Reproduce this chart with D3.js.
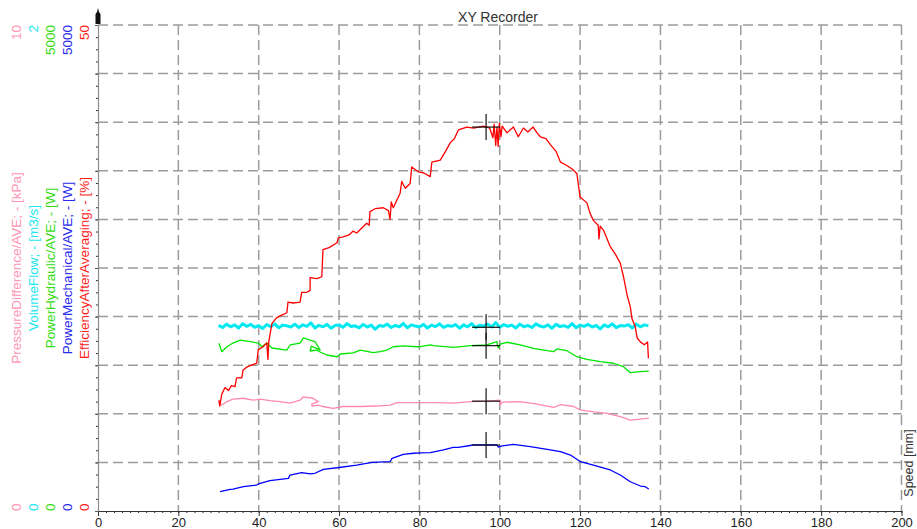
<!DOCTYPE html>
<html>
<head>
<meta charset="utf-8">
<script src="https://cdn.jsdelivr.net/npm/d3@7"></script>
<style>
  body { margin: 0; background: #fff; }
  svg { display: block; font-family: "Liberation Sans", Arial, sans-serif; }
</style>
</head>
<body>
<div id="wrapper"></div>
<script>
// values: [speed mm, value]
var efficiency = [[30.1,11.4],[30.3,10.8],[30.8,12.0],[31.6,12.7],[32.5,12.4],[33.2,12.9],[34.1,12.8],[34.5,13.7],[35.8,13.7],[36.1,14.5],[37.0,14.8],[38.2,15.0],[39.5,15.2],[39.9,16.6],[41.1,16.9],[42.0,17.3],[42.3,15.6],[42.5,17.4],[43.3,19.3],[44.5,19.9],[45.5,20.1],[47.0,20.4],[47.3,21.5],[48.5,21.4],[50.3,21.5],[50.7,22.5],[52.0,22.5],[52.8,22.7],[52.8,24.0],[54.5,23.9],[55.7,24.1],[56.0,26.9],[57.5,27.1],[59.5,27.6],[59.8,28.1],[61.0,28.2],[62.5,28.4],[63.5,28.8],[64.4,28.6],[66.9,29.6],[67.5,29.4],[67.7,30.8],[69.0,31.1],[71.0,31.2],[72.3,30.9],[72.7,30.0],[73.0,31.8],[73.5,31.2],[75.2,32.7],[75.6,33.9],[76.5,33.2],[77.7,33.7],[78.1,35.4],[79.7,34.9],[81.0,34.8],[82.7,34.4],[83.1,35.9],[85.2,36.1],[86.5,37.0],[87.7,37.9],[88.7,38.3],[89.7,39.2],[91.8,39.5],[93.5,39.4],[95.9,39.6],[97.5,39.4],[98.3,38.4],[98.6,39.8],[99.0,37.6],[99.3,39.5],[99.6,37.5],[99.9,39.9],[100.3,38.5],[100.6,39.6],[101.8,38.9],[103.4,39.5],[104.6,38.5],[105.9,39.4],[107.0,39.0],[108.3,39.5],[109.3,38.9],[110.1,38.5],[111.5,38.3],[112.6,37.7],[114.0,37.0],[115.1,35.9],[116.5,35.6],[118.3,35.1],[119.2,34.7],[120.0,32.3],[121.7,31.7],[122.5,30.6],[123.3,29.9],[124.5,29.4],[124.7,28.0],[125.0,29.3],[125.8,28.9],[127.5,27.2],[128.8,26.4],[130.0,25.5],[130.8,24.1],[131.7,22.2],[132.5,21.0],[132.9,19.8],[133.7,19.0],[134.2,17.8],[135.0,17.4],[136.0,17.1],[136.8,17.4],[137.0,15.7]]

var volumeFlow = [[30,.764],[31,.755],[32,.769],[33,.758],[34,.766],[35,.753],[36,.771],[37,.760],[38,.768],[39,.756],[40,.763],[41,.751],[42,.767],[43,.759],[44,.770],[45,.754],[46,.765],[47,.762],[48,.757],[49,.769],[50,.755],[51,.766],[52,.760],[53,.774],[54,.753],[55,.764],[56,.758],[57,.768],[58,.752],[59,.763],[60,.766],[61,.756],[62,.771],[63,.759],[64,.762],[65,.754],[66,.768],[67,.757],[68,.765],[69,.748],[70,.763],[71,.760],[72,.769],[73,.755],[74,.764],[75,.758],[76,.772],[77,.754],[78,.766],[79,.761],[80,.757],[81,.768],[82,.753],[83,.765],[84,.759],[85,.770],[86,.756],[87,.763],[88,.760],[89,.767],[90,.752],[91,.766],[92,.758],[93,.771],[94,.755],[95,.764],[96,.761],[97,.769],[98,.757],[99,.775],[100,.756],[101,.767],[102,.760],[103,.765],[104,.753],[105,.769],[106,.758],[107,.764],[108,.755],[109,.770],[110,.761],[111,.757],[112,.766],[113,.752],[114,.768],[115,.759],[116,.763],[117,.756],[118,.771],[119,.754],[120,.765],[121,.760],[122,.768],[123,.757],[124,.764],[125,.749],[126,.766],[127,.758],[128,.770],[129,.755],[130,.763],[131,.761],[132,.767],[133,.753],[134,.769],[135,.758],[136,.766],[137,.762]]

var powerHydraulic = [[30.1,1725],[30.8,1639],[32.1,1690],[33.6,1728],[35.4,1759],[37.9,1742],[39.9,1728],[40.8,1690],[42.0,1728],[43.3,1677],[47.0,1656],[47.8,1708],[50.3,1728],[51.1,1780],[52.8,1759],[54.0,1742],[54.8,1690],[55.3,1656],[53.1,1697],[52.8,1646],[54.3,1656],[55.3,1636],[57.0,1605],[59.5,1587],[60.3,1615],[63.5,1626],[65.3,1656],[68.5,1629],[70.2,1639],[71.9,1656],[73.5,1690],[76.0,1698],[79.4,1690],[80.2,1690],[82.7,1708],[83.5,1701],[88.5,1684],[92.7,1701],[96.8,1708],[99.3,1742],[99.6,1677],[100.1,1718],[101.8,1736],[105.1,1708],[108.4,1674],[111.8,1649],[113.4,1639],[114.2,1667],[116.7,1649],[119.2,1587],[121.7,1561],[125.0,1536],[128.3,1520],[130.8,1485],[132.5,1423],[135.0,1433],[137.1,1440]]

var pressureDiff = [[30.1,2.25],[30.8,2.18],[32.1,2.25],[33.6,2.30],[36.1,2.32],[38.6,2.28],[40.3,2.30],[42.8,2.27],[45.3,2.25],[47.8,2.22],[50.3,2.28],[51.1,2.35],[53.5,2.32],[54.8,2.25],[53.2,2.20],[53.3,2.16],[54.8,2.18],[56.0,2.15],[58.5,2.11],[61.0,2.15],[65.3,2.15],[69.4,2.16],[72.7,2.18],[74.4,2.23],[79.4,2.23],[84.4,2.23],[88.5,2.22],[92.7,2.25],[96.8,2.26],[100.1,2.28],[100.1,2.18],[100.6,2.24],[105.1,2.25],[109.3,2.20],[111.8,2.16],[113.4,2.13],[115.1,2.19],[118.4,2.15],[120.0,2.08],[123.4,2.04],[126.7,2.01],[130.0,1.94],[132.5,1.87],[135.0,1.89],[137.1,1.91]]

var powerMechanical = [[30.4,199],[32.9,223],[33.6,226],[36.2,250],[39.5,267],[39.9,278],[42.8,312],[47.4,336],[47.8,370],[50.7,394],[52.8,381],[54.0,388],[56.1,429],[59.5,445],[64.4,473],[68.2,501],[72.7,507],[73.2,542],[76.0,583],[78.5,594],[80.2,599],[82.7,600],[86.0,628],[88.4,655],[89.7,655],[93.4,679],[96.8,679],[99.3,679],[99.6,658],[100.6,669],[103.4,686],[107.6,662],[111.8,635],[115.1,610],[117.6,576],[120.1,507],[123.3,473],[127.5,422],[130.0,370],[132.5,301],[135.0,257],[136.2,250],[137.1,226]]

// series order: pressure, flow, hydraulic, mechanical, efficiency
var seriesData = [pressureDiff, volumeFlow, powerHydraulic, powerMechanical, efficiency]
var seriesTitles = ["PressureDifference/AVE; - [kPa]", "VolumeFlow; - [m3/s]", "PowerHydraulic/AVE; - [W]", "PowerMechanical/AVE; - [W]", "EfficiencyAfterAveraging; - [%]"]
var seriesMax = [10, 2, 5000, 5000, 50]
var seriesColors = ["#ff8aae", "#00e8f0", "#00e600", "#0000ff", "#ff0000"]
var labelColors = ["#ff94b4", "#22e6f0", "#33dd11", "#2a2aee", "#ff1a1a"]
var lineWidths = [1.3, 3, 1.3, 1.3, 1.3]

var cursorSpeed = 96.6
var cursorValues = [2.26, 0.756, 1701, 679, 39.5]

var speedTicks = [0, 20, 40, 60, 80, 100, 120, 140, 160, 180, 200]

var W = 917, H = 529
var plot = { left: 98, right: 901.5, top: 25, bottom: 511 }

const svg = d3.select("#wrapper").append("svg")
    .attr("width", W).attr("height", H)

var xScale = d3.scaleLinear().domain([0, 200]).range([plot.left, plot.right])
var yScales = seriesMax.map(m => d3.scaleLinear().domain([0, m]).range([plot.bottom, plot.top]))
var yMain = yScales[4]

// grid
var grid = svg.append("g")
    .attr("stroke", "#9c9c9c").attr("stroke-width", 1.5).attr("stroke-dasharray", "10,5")
grid.selectAll(".h").data(d3.range(5, 51, 5)).join("line")
    .attr("x1", plot.left).attr("x2", plot.right)
    .attr("y1", d => yMain(d)).attr("y2", d => yMain(d))
grid.selectAll(".v").data(speedTicks.slice(1)).join("line")
    .attr("x1", d => xScale(d)).attr("x2", d => xScale(d))
    .attr("y1", plot.top).attr("y2", plot.bottom)

// x axis
var xMinor = svg.append("g").attr("transform", `translate(0,${plot.bottom})`)
    .call(d3.axisBottom(xScale).tickValues(d3.range(0, 201, 2)).tickSize(2).tickFormat(""))
xMinor.select(".domain").remove()
xMinor.selectAll("line").attr("stroke", "#222")

var xAxis = svg.append("g").attr("transform", `translate(0,${plot.bottom})`)
    .call(d3.axisBottom(xScale).tickValues(speedTicks).tickSize(5).tickSizeOuter(0).tickPadding(2))
xAxis.select(".domain").attr("stroke", "#333")
xAxis.selectAll("line").attr("stroke", "#333")
xAxis.selectAll("text").attr("font-size", 13).attr("fill", "#222").attr("font-family", "Liberation Sans, Arial, sans-serif")

// y axis (left)
var yMinor = svg.append("g").attr("transform", `translate(${plot.left},0)`)
    .call(d3.axisLeft(yMain).tickValues(d3.range(0, 50.01, 1.25)).tickSize(2).tickFormat(""))
yMinor.select(".domain").remove()
yMinor.selectAll("line").attr("stroke", "#333")

var yAxis = svg.append("g").attr("transform", `translate(${plot.left},0)`)
    .call(d3.axisLeft(yMain).tickValues(d3.range(0, 51, 5)).tickSizeInner(3).tickSizeOuter(0).tickFormat(""))
yAxis.select(".domain").attr("stroke", "#8c8c8c").attr("stroke-width", 1.2)
yAxis.selectAll("line").attr("stroke", "#555")

// arrow on top of the y axis
svg.append("path")
    .attr("d", `M${plot.left},8 L${plot.left + 1},12 L${plot.left + 2.5},14 L${plot.left + 2.5},${plot.top - 1} L${plot.left - 2.5},${plot.top - 1} L${plot.left - 2.5},14 L${plot.left - 1},12 Z`)
    .attr("fill", "#111")

// curves
var lines = svg.append("g").attr("fill", "none").attr("stroke-linejoin", "round")
seriesData.forEach((data, i) => {
    var line = d3.line()
        .x(d => xScale(d[0]))
        .y(d => yScales[i](d[1]))
    lines.append("path")
        .attr("d", line(data))
        .attr("stroke", seriesColors[i])
        .attr("stroke-width", lineWidths[i])
})

// cursor crosses
var cross = svg.append("g").attr("stroke", "#111").attr("stroke-width", 1.2)
cursorValues.forEach((v, i) => {
    var cx = xScale(cursorSpeed), cy = yScales[i](v)
    cross.append("line").attr("x1", cx - 14).attr("x2", cx + 14).attr("y1", cy).attr("y2", cy)
    cross.append("line").attr("x1", cx).attr("x2", cx).attr("y1", cy - 13).attr("y2", cy + 13)
})

// left axis labels (rotated)
var labelX = [21, 38, 55, 72, 88.5]
seriesTitles.forEach((t, i) => {
    var g = svg.append("g").attr("fill", labelColors[i]).attr("font-size", 13.5)
    g.append("text").attr("transform", `translate(${labelX[i]},${plot.top}) rotate(-90)`)
        .attr("text-anchor", "end").text(seriesMax[i])
    g.append("text").attr("transform", `translate(${labelX[i]},${(plot.top + plot.bottom) / 2}) rotate(-90)`)
        .attr("text-anchor", "middle").text(t)
    g.append("text").attr("transform", `translate(${labelX[i]},${plot.bottom}) rotate(-90)`)
        .attr("text-anchor", "start").text(0)
})

// title and x axis label
svg.append("text").attr("x", 498).attr("y", 22).attr("text-anchor", "middle")
    .attr("font-size", 14).attr("fill", "#333").text("XY Recorder")
svg.append("text").attr("transform", "translate(913,463) rotate(-90)")
    .attr("text-anchor", "middle").attr("font-size", 12.5).attr("fill", "#333").text("Speed [mm]")
</script>
</body>
</html>
